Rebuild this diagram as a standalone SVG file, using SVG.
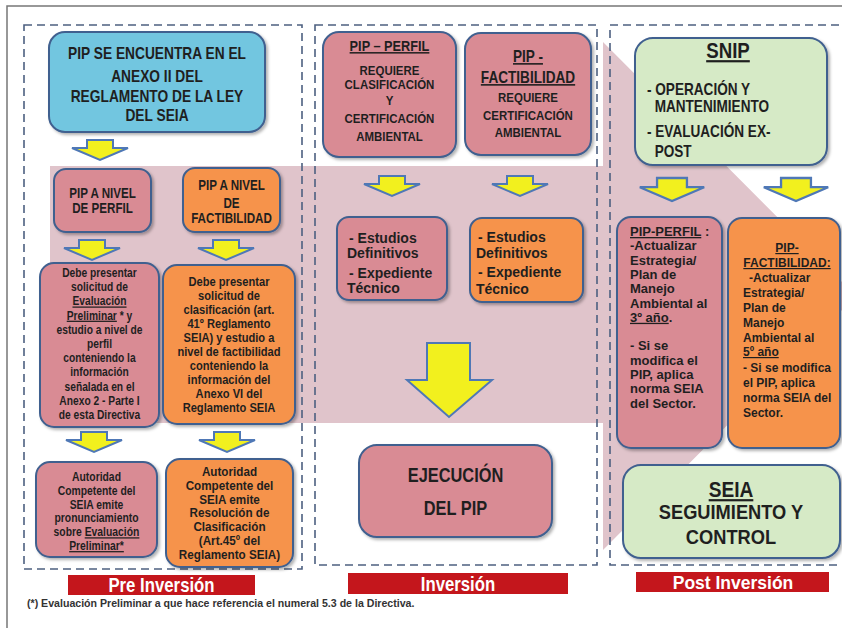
<svg xmlns="http://www.w3.org/2000/svg" width="842" height="628" viewBox="0 0 842 628">
<style>
.t{font-family:"Liberation Sans",Arial,sans-serif;font-weight:bold;fill:#1f1f1f}
.w{font-family:"Liberation Sans",Arial,sans-serif;font-weight:bold;fill:#1f1f1f}
.c{text-anchor:middle}
.u{text-decoration:underline}
.box{stroke:#40608f;stroke-width:2;filter:url(#sh)}
.pink{fill:#d98b94}
.orange{fill:#f6934c}
.blue{fill:#72c6e0}
.green{fill:#d6eac6}
.arr{fill:#f2f01e;stroke:#4f78b6;stroke-width:2;stroke-linejoin:miter}
.dash{fill:none;stroke:#4d6080;stroke-width:1.6;stroke-dasharray:8 5}
.lab{fill:#c4161c}
.lt{fill:#ffffff;font-weight:bold;text-anchor:middle}
</style>
<defs>
<filter id="sh" x="-10%" y="-10%" width="125%" height="125%">
<feDropShadow dx="2" dy="2" stdDeviation="1.8" flood-color="#000" flood-opacity="0.3"/>
</filter>
<path id="ar" d="M-13,0 H13 V8 H28 L0,20 L-28,8 H-13 Z"/>
</defs>
<rect width="842" height="628" fill="#ffffff"/>
<path d="M7,628 V6 H842" fill="none" stroke="#777" stroke-width="1.5"/>
<polygon points="50,166 603,166 603,42 856,296 603,550 603,423 50,423" fill="#e0c4cb"/>
<g id="containers">
<rect class="dash" x="24" y="25" width="278" height="544"/>
<rect class="dash" x="315" y="25" width="282" height="540"/>
<rect class="dash" x="610" y="25" width="240" height="540"/>
</g>
<g id="n-anexo">
<rect class="box blue" x="49" y="32" width="216" height="100" rx="16"/>
<text class="t c" font-size="16" transform="matrix(0.86,0,0,1,21.98,0)"><tspan x="157" y="59">PIP SE ENCUENTRA  EN EL</tspan><tspan x="157" y="82">ANEXO II DEL</tspan><tspan x="157" y="102">REGLAMENTO  DE LA LEY</tspan><tspan x="157" y="121">DEL  SEIA</tspan></text>
</g>
<g id="n-perfil">
<rect class="box pink" x="54" y="169" width="97" height="63" rx="12"/>
<text class="t c" font-size="14" transform="matrix(0.83,0,0,1,17.43,0)"><tspan x="102.5" y="198">PIP A NIVEL</tspan><tspan x="102.5" y="213">DE PERFIL</tspan></text>
</g>
<g id="n-factib">
<rect class="box orange" x="183" y="168" width="97" height="64" rx="12"/>
<text class="t c" font-size="14" transform="matrix(0.83,0,0,1,39.36,0)"><tspan x="231.5" y="190">PIP A NIVEL</tspan><tspan x="231.5" y="208">DE</tspan><tspan x="231.5" y="223">FACTIBILIDAD</tspan></text>
</g>
<g id="n-debe-perfil">
<rect class="box pink" x="40" y="263" width="119" height="164" rx="14"/>
<text class="t c" font-size="12.5" transform="matrix(0.82,0,0,1,17.91,0)"><tspan x="99.5" y="277">Debe presentar</tspan><tspan x="99.5" y="291.2">solicitud de</tspan><tspan x="99.5" y="305.4" class="u">Evaluación</tspan><tspan x="99.5" y="319.6"><tspan class="u">Preliminar</tspan>  * y</tspan><tspan x="99.5" y="333.8">estudio a nivel de</tspan><tspan x="99.5" y="348">perfil</tspan><tspan x="99.5" y="362.2">conteniendo la</tspan><tspan x="99.5" y="376.4">información</tspan><tspan x="99.5" y="390.6">señalada en el</tspan><tspan x="99.5" y="404.8">Anexo 2 - Parte I</tspan><tspan x="99.5" y="419">de esta Directiva</tspan></text>
</g>
<g id="n-debe-factib">
<rect class="box orange" x="163" y="265" width="132" height="159" rx="14"/>
<text class="t c" font-size="12.5" transform="matrix(0.89,0,0,1,25.19,0)"><tspan x="229" y="286">Debe presentar</tspan><tspan x="229" y="300">solicitud de</tspan><tspan x="229" y="314">clasificación (art.</tspan><tspan x="229" y="328">41º Reglamento</tspan><tspan x="229" y="342">SEIA) y estudio a</tspan><tspan x="229" y="356">nivel de factibilidad</tspan><tspan x="229" y="370">conteniendo la</tspan><tspan x="229" y="384">información del</tspan><tspan x="229" y="398">Anexo  VI del</tspan><tspan x="229" y="412">Reglamento  SEIA</tspan></text>
</g>
<g id="n-autoridad-perfil">
<rect class="box pink" x="36" y="462" width="121" height="95" rx="14"/>
<text class="t c" font-size="12.5" transform="matrix(0.83,0,0,1,16.41,0)"><tspan x="96.5" y="481">Autoridad</tspan><tspan x="96.5" y="494.8">Competente del</tspan><tspan x="96.5" y="508.6">SEIA emite</tspan><tspan x="96.5" y="522.4">pronunciamiento</tspan><tspan x="96.5" y="536.2">sobre  <tspan class="u">Evaluación</tspan></tspan><tspan x="96.5" y="550" class="u">Preliminar*</tspan></text>
</g>
<g id="n-autoridad-factib">
<rect class="box orange" x="166" y="459" width="127" height="108" rx="14"/>
<text class="t c" font-size="13" transform="matrix(0.9,0,0,1,22.95,0)"><tspan x="229.5" y="476">Autoridad</tspan><tspan x="229.5" y="489.8">Competente  del</tspan><tspan x="229.5" y="503.6">SEIA emite</tspan><tspan x="229.5" y="517.4">Resolución de</tspan><tspan x="229.5" y="531.2">Clasificación</tspan><tspan x="229.5" y="545">(Art.45º del</tspan><tspan x="229.5" y="559">Reglamento  SEIA)</tspan></text>
</g>
<g id="n-inv-perfil">
<rect class="box pink" x="323" y="32" width="133" height="125" rx="16"/>
<text class="t c" transform="matrix(0.85,0,0,1,58.43,0)"><tspan x="389.5" y="51" font-size="15" class="u">PIP – PERFIL</tspan><tspan x="389.5" y="75" font-size="13.5">REQUIERE</tspan><tspan x="389.5" y="89" font-size="13.5">CLASIFICACIÓN</tspan><tspan x="389.5" y="105" font-size="13.5">Y</tspan><tspan x="389.5" y="123" font-size="13.5">CERTIFICACIÓN</tspan><tspan x="389.5" y="141" font-size="13.5">AMBIENTAL</tspan></text>
</g>
<g id="n-inv-factib">
<rect class="box pink" x="465" y="33" width="126" height="122" rx="16"/>
<text class="t c" transform="matrix(0.85,0,0,1,79.2,0)"><tspan x="528" y="62" font-size="16" class="u">PIP -</tspan><tspan x="528" y="83" font-size="16" class="u">FACTIBILIDAD</tspan><tspan x="528" y="102" font-size="13.5">REQUIERE</tspan><tspan x="528" y="120" font-size="13.5">CERTIFICACIÓN</tspan><tspan x="528" y="137" font-size="13.5">AMBIENTAL</tspan></text>
</g>
<g id="n-estudios-perfil">
<rect class="box pink" x="337" y="217" width="110" height="83" rx="12"/>
<text class="t" font-size="14"><tspan x="349" y="242.5">- Estudios</tspan><tspan x="347" y="258">Definitivos</tspan><tspan x="349" y="277.5">- Expediente</tspan><tspan x="347" y="293">Técnico</tspan></text>
</g>
<g id="n-estudios-factib">
<rect class="box orange" x="470" y="218" width="113" height="84" rx="12"/>
<text class="t" font-size="14"><tspan x="478" y="242">- Estudios</tspan><tspan x="476" y="257.5">Definitivos</tspan><tspan x="478" y="277">- Expediente</tspan><tspan x="476" y="293.5">Técnico</tspan></text>
</g>
<g id="n-ejecucion">
<rect class="box pink" x="359" y="445" width="193" height="92" rx="18"/>
<text class="t c" font-size="20" transform="matrix(0.82,0,0,1,81.99,0)"><tspan x="455.5" y="482">EJECUCIÓN</tspan><tspan x="455.5" y="515">DEL PIP</tspan></text>
</g>
<g id="n-snip">
<rect class="box green" x="635" y="38" width="192" height="127" rx="18"/>
<text class="t" transform="matrix(0.85,0,0,1,97.05,0)"><tspan x="742.3" y="58" font-size="22" text-anchor="middle" class="u">SNIP</tspan><tspan x="647" y="95" font-size="16">- OPERACIÓN Y</tspan><tspan x="656" y="112" font-size="16">MANTENIMIENTO</tspan><tspan x="647" y="137" font-size="16">- EVALUACIÓN  EX-</tspan><tspan x="656" y="157" font-size="16">POST</tspan></text>
</g>
<g id="n-post-perfil">
<rect class="box pink" x="617" y="217" width="105" height="231" rx="14"/>
<text class="w" font-size="13"><tspan x="630" y="236"><tspan class="u">PIP-PERFIL</tspan> :</tspan><tspan x="630" y="250.3">-Actualizar</tspan><tspan x="630" y="264.6">Estrategia/</tspan><tspan x="630" y="278.9">Plan de</tspan><tspan x="630" y="293.2">Manejo</tspan><tspan x="630" y="307.5">Ambiental al</tspan><tspan x="630" y="321.8"><tspan class="u">3º año</tspan>.</tspan><tspan x="630" y="350.4">- Si se</tspan><tspan x="630" y="364.7">modifica el</tspan><tspan x="630" y="379">PIP, aplica</tspan><tspan x="630" y="393.3">norma SEIA</tspan><tspan x="630" y="407.6">del Sector.</tspan></text>
</g>
<g id="n-post-factib">
<rect class="box orange" x="728" y="218" width="112" height="230" rx="14"/>
<text class="w" font-size="12"><tspan x="787" y="252" text-anchor="middle" class="u">PIP-</tspan><tspan x="787" y="267" text-anchor="middle" class="u">FACTIBILIDAD:</tspan><tspan x="749" y="282">-Actualizar</tspan><tspan x="743" y="297">Estrategia/</tspan><tspan x="743" y="312">Plan de</tspan><tspan x="743" y="327">Manejo</tspan><tspan x="743" y="342">Ambiental  al</tspan><tspan x="743" y="356" class="u">5º año</tspan><tspan x="743" y="372">- Si se modifica</tspan><tspan x="743" y="387">el PIP, aplica</tspan><tspan x="743" y="402">norma SEIA del</tspan><tspan x="743" y="417">Sector.</tspan></text>
</g>
<g id="n-seia">
<rect class="box green" x="623" y="465" width="217" height="93" rx="18"/>
<text class="t c" transform="matrix(0.87,0,0,1,95.03,0)"><tspan x="731" y="497" font-size="22" class="u">SEIA</tspan><tspan x="731" y="519" font-size="21">SEGUIMIENTO Y</tspan><tspan x="731" y="544" font-size="21">CONTROL</tspan></text>
</g>
<g id="connectors">
<use href="#ar" class="arr" x="100" y="140"/>
<use href="#ar" class="arr" x="92" y="240"/>
<use href="#ar" class="arr" x="226" y="240"/>
<use href="#ar" class="arr" x="94" y="432"/>
<use href="#ar" class="arr" x="227" y="432"/>
<use href="#ar" class="arr" x="392" y="176"/>
<use href="#ar" class="arr" x="520" y="176"/>
<use href="#ar" class="arr" transform="translate(672,178) scale(1.15)"/>
<use href="#ar" class="arr" transform="translate(796,178) scale(1.15)"/>
<path class="arr" d="M427,343 H470 V380 H492 L449,417 L407,380 H427 Z"/>
</g>
<g id="labels">
<rect class="lab" x="68" y="575" width="187" height="20"/>
<text class="t lt" font-size="19.5" x="161.5" y="592.5" style="fill:#fff" transform="matrix(0.86,0,0,1,22.61,0)">Pre Inversión</text>
<rect class="lab" x="348" y="573" width="220" height="21"/>
<text class="t lt" font-size="19.5" x="458" y="591" style="fill:#fff" transform="matrix(0.86,0,0,1,64.12,0)">Inversión</text>
<rect class="lab" x="636" y="572" width="193" height="20"/>
<text class="lt" font-family="Liberation Sans, Arial, sans-serif" font-size="17.5" x="733" y="588.5">Post Inversión</text>
</g>
<text class="t" font-size="10.6" x="27" y="607" style="fill:#333">(*) Evaluación Preliminar  a que hace referencia el numeral 5.3 de la Directiva.</text>
</svg>
